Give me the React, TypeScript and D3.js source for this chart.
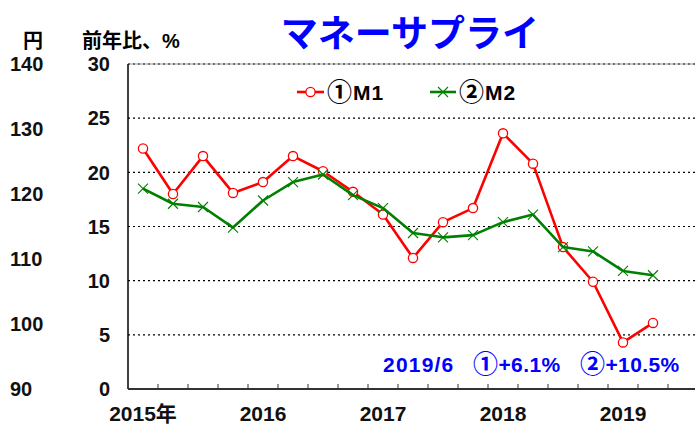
import React from 'react';
import * as d3 from 'd3';

// 四半期データ（2015Q1〜2019Q2）前年比、%
const quarters = [
  '2015Q1', '2015Q2', '2015Q3', '2015Q4',
  '2016Q1', '2016Q2', '2016Q3', '2016Q4',
  '2017Q1', '2017Q2', '2017Q3', '2017Q4',
  '2018Q1', '2018Q2', '2018Q3', '2018Q4',
  '2019Q1', '2019Q2',
];
const m1 = [22.2, 18.0, 21.5, 18.1, 19.1, 21.5, 20.1, 18.2, 16.1, 12.1, 15.4, 16.7, 23.6, 20.8, 13.1, 9.9, 4.3, 6.1];
const m2 = [18.5, 17.1, 16.8, 14.9, 17.4, 19.1, 19.8, 17.9, 16.7, 14.4, 14.0, 14.2, 15.4, 16.1, 13.1, 12.7, 10.9, 10.5];

const yTicks = [0, 5, 10, 15, 20, 25, 30];
const yenTicks = [90, 100, 110, 120, 130, 140];
const yearLabels = [
  { q: '2015Q1', label: '2015年' },
  { q: '2016Q1', label: '2016' },
  { q: '2017Q1', label: '2017' },
  { q: '2018Q1', label: '2018' },
  { q: '2019Q1', label: '2019' },
];

const W = 695;
const H = 431;
const FONT = '"Liberation Sans", "Noto Sans CJK JP", sans-serif';
const CJK = '"Noto Sans CJK JP", sans-serif';

export default function App() {
  const left = 128;
  const right = 695;
  const top = 64;
  const bottom = 389;
  const nSlots = 19; // x軸は四半期ごとに目盛り

  const x = d3.scaleLinear().domain([0, nSlots]).range([left, left + nSlots * 30]);
  const y = d3.scaleLinear().domain([0, 30]).range([bottom, top]);
  const yYen = d3.scaleLinear().domain([90, 140]).range([bottom, top]);
  const px = (i: number) => x(i + 0.5);

  const line = d3.line<number>()
    .x((_, i) => px(i))
    .y(d => y(d));

  const tickIdx = d3.range(1, nSlots);

  return (
    <svg width={W} height={H} style={{ position: 'absolute', left: 0, top: 0, background: '#fff' }}
      fontFamily={FONT} fontWeight="bold">
      {/* タイトル */}
      <text x={410} y={47} textAnchor="middle" fontSize={37} fill="#0000ff" fontFamily={CJK}>マネーサプライ</text>

      {/* 軸タイトル */}
      <text x={33} y={48} textAnchor="middle" fontSize={20} fill="#000" fontFamily={CJK}>円</text>
      <text x={82} y={48} fontSize={20} fill="#000" fontFamily={CJK}>前年比、<tspan fontFamily={FONT}>%</tspan></text>

      {/* グリッド */}
      {yTicks.filter(t => t > 0).map(t => (
        <line key={t} x1={left} x2={right} y1={y(t)} y2={y(t)}
          stroke="#000" strokeWidth={1.2} strokeDasharray="2,3" />
      ))}
      <line x1={left} x2={right} y1={top} y2={top} stroke="#555" strokeWidth={0.6} />

      {/* 右側（%）目盛りラベル */}
      {yTicks.map(t => (
        <text key={t} x={110} y={y(t)} dy="0.36em" textAnchor="end" fontSize={20} fill="#111">{t}</text>
      ))}
      {/* 円目盛りラベル */}
      {yenTicks.map(t => (
        <text key={t} x={10} y={yYen(t)} dy="0.36em" fontSize={20} fill="#111">{t}</text>
      ))}

      {/* 軸 */}
      <line x1={left} x2={left} y1={top} y2={bottom} stroke="#000" strokeWidth={1.5} />
      <line x1={left} x2={right} y1={bottom} y2={bottom} stroke="#333" strokeWidth={1.8} />
      {tickIdx.map(i => (
        <line key={i} x1={x(i)} x2={x(i)} y1={bottom} y2={bottom - 5} stroke="#333" strokeWidth={1} />
      ))}
      {yearLabels.map(d => (
        <text key={d.q} x={px(quarters.indexOf(d.q))} y={421} textAnchor="middle" fontSize={21} fill="#111">
          {d.label}
        </text>
      ))}

      {/* M1 */}
      <path d={line(m1) ?? ''} fill="none" stroke="#ff0000" strokeWidth={2.6} strokeLinejoin="round" />
      {m1.map((v, i) => (
        <circle key={i} cx={px(i)} cy={y(v)} r={4.6} fill="#fff" stroke="#ff0000" strokeWidth={1.3} />
      ))}

      {/* M2 */}
      <path d={line(m2) ?? ''} fill="none" stroke="#008000" strokeWidth={2.6} strokeLinejoin="round" />
      {m2.map((v, i) => (
        <path key={i} d={`M${px(i) - 5},${y(v) - 5}L${px(i) + 5},${y(v) + 5}M${px(i) - 5},${y(v) + 5}L${px(i) + 5},${y(v) - 5}`}
          stroke="#008000" strokeWidth={1.1} />
      ))}

      {/* 凡例 */}
      <line x1={297} x2={324} y1={92} y2={92} stroke="#ff0000" strokeWidth={2.6} />
      <circle cx={310.5} cy={92} r={4.6} fill="#fff" stroke="#ff0000" strokeWidth={1.3} />
      <text x={327} y={100} fontSize={21} fill="#000" letterSpacing={1}>
        <tspan fontFamily={CJK} fontSize={25} dy={1}>①</tspan><tspan dy={-1}>M1</tspan>
      </text>
      <line x1={430} x2={456} y1={92} y2={92} stroke="#008000" strokeWidth={2.6} />
      <path d="M438,87L448,97M438,97L448,87" stroke="#008000" strokeWidth={1.1} />
      <text x={459} y={100} fontSize={21} fill="#000" letterSpacing={1}>
        <tspan fontFamily={CJK} fontSize={25} dy={1}>②</tspan><tspan dy={-1}>M2</tspan>
      </text>

      {/* 注記 */}
      <text x={383} y={372} fontSize={21} fill="#0000ff" letterSpacing={1.2}>2019/6</text>
      <text x={473} y={372} fontSize={21} fill="#0000ff" letterSpacing={0.4}>
        <tspan fontFamily={CJK} fontSize={25} dy={1}>①</tspan><tspan dy={-1}>+6.1%</tspan>
      </text>
      <text x={580} y={372} fontSize={21} fill="#0000ff" letterSpacing={0.4}>
        <tspan fontFamily={CJK} fontSize={25} dy={1}>②</tspan><tspan dy={-1}>+10.5%</tspan>
      </text>
    </svg>
  );
}
